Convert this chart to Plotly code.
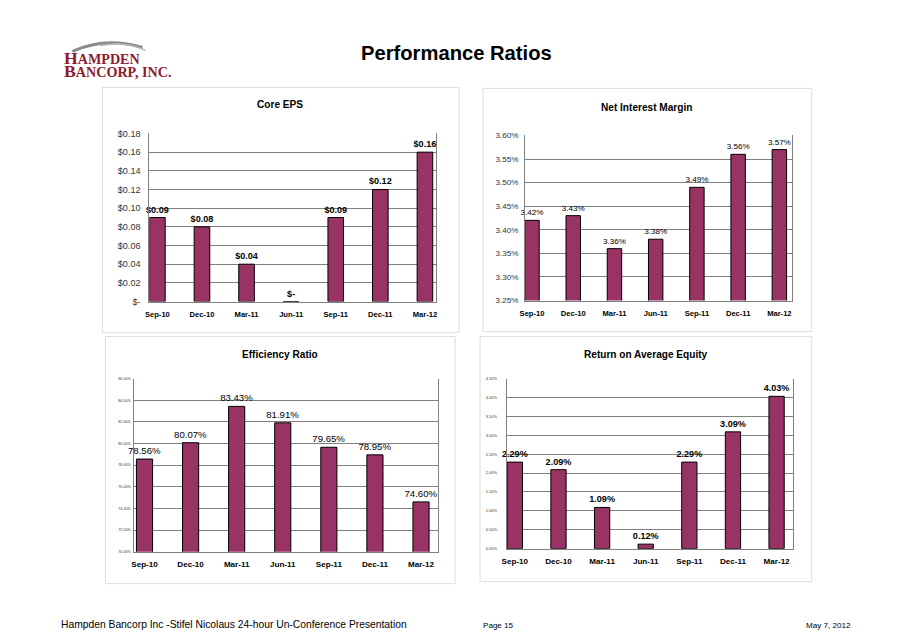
import plotly.graph_objects as go

# ---------------- data ----------------
periods = ["Sep-10", "Dec-10", "Mar-11", "Jun-11", "Sep-11", "Dec-11", "Mar-12"]
core_eps = [0.09, 0.08, 0.04, 0.00, 0.09, 0.12, 0.16]
net_interest_margin = [3.42, 3.43, 3.36, 3.38, 3.49, 3.56, 3.57]
efficiency_ratio = [78.56, 80.07, 83.43, 81.91, 79.65, 78.95, 74.60]
return_on_avg_equity = [2.29, 2.09, 1.09, 0.12, 2.29, 3.09, 4.03]

eps_ticks = [0.0, 0.02, 0.04, 0.06, 0.08, 0.10, 0.12, 0.14, 0.16, 0.18]
eps_ticktext = ["$-", "$0.02", "$0.04", "$0.06", "$0.08", "$0.10", "$0.12", "$0.14", "$0.16", "$0.18"]
nim_ticks = [3.25, 3.30, 3.35, 3.40, 3.45, 3.50, 3.55, 3.60]
eff_ticks = [70, 72, 74, 76, 78, 80, 82, 84, 86]
roae_ticks = [0.0, 0.5, 1.0, 1.5, 2.0, 2.5, 3.0, 3.5, 4.0, 4.5]

W, H = 912, 644
# compensation for the slight scaling seen in the photographed page
SX, OX = 0.9944, 4.5
SY, OY = 0.984, 4.6
BAR = "#993366"
PLOT_BG = "#C0C0C0"
GRID = "#808080"
FONT = "Liberation Sans, Arial, sans-serif"

def px(x):
    return ((x - OX) / SX) / W

def py(y):
    return 1 - ((y - OY) / SY) / H

def fs(size):
    return round(size / 0.99, 2)

xs = list(range(len(periods)))

fig = go.Figure()

def add_bar(values, labels, idx, size, bold):
    fig.add_trace(go.Bar(
        x=xs, y=values,
        xaxis="x" if idx == 1 else f"x{idx}",
        yaxis="y" if idx == 1 else f"y{idx}",
        marker=dict(color=BAR, line=dict(color="#000000", width=1)),
        text=labels, textposition="outside", cliponaxis=False,
        constraintext="none",
        textfont=dict(family=FONT, size=fs(size), color="#000000",
                      weight="bold" if bold else "normal"),
        width=0.35, showlegend=False, hoverinfo="skip",
    ))

add_bar(core_eps, [f"${v:.2f}" if v else "$-" for v in core_eps], 1, 9, True)
add_bar(net_interest_margin, [f"{v:.2f}%" for v in net_interest_margin], 2, 8, False)
add_bar(efficiency_ratio, [f"{v:.2f}%" for v in efficiency_ratio], 3, 9.5, False)
add_bar(return_on_avg_equity, [f"{v:.2f}%" for v in return_on_avg_equity], 4, 9, True)

def xaxis(domain, rng, anchor, size):
    return dict(domain=domain, range=rng, anchor=anchor,
                tickmode="array", tickvals=xs, ticktext=periods,
                tickfont=dict(family=FONT, size=fs(size), color="#000000", weight="bold"),
                showgrid=False, zeroline=False, showline=True, linecolor="#808080",
                ticks="", ticklabelstandoff=5, fixedrange=True)

def yaxis(domain, rng, anchor, tickvals, ticktext, size, standoff):
    return dict(domain=domain, range=rng, anchor=anchor,
                tickmode="array", tickvals=tickvals, ticktext=ticktext,
                tickfont=dict(family=FONT, size=fs(size), color="#333333"),
                showgrid=True, gridcolor=GRID, gridwidth=1, zeroline=False,
                showline=True, linecolor="#808080", mirror=True,
                ticks="", ticklabelstandoff=standoff, fixedrange=True)

layout = dict(
    width=W, height=H, autosize=False,
    margin=dict(l=0, r=0, t=0, b=0),
    paper_bgcolor="#ffffff", plot_bgcolor=PLOT_BG,
    font=dict(family=FONT),
)

layout["xaxis"] = xaxis([px(149), px(436)], [-0.18, 6.25], "y", 7.5)
layout["yaxis"] = yaxis([py(301), py(133)], [0, 0.18], "x", eps_ticks, eps_ticktext, 9, 6)
layout["xaxis2"] = xaxis([px(525), px(792)], [-0.17, 6.3], "y2", 7.5)
layout["yaxis2"] = yaxis([py(300), py(135)], [3.25, 3.60], "x2", nim_ticks,
                         [f"{v:.2f}%" for v in nim_ticks], 8, 4)
layout["xaxis3"] = xaxis([px(134), px(438)], [-0.22, 6.37], "y3", 8)
layout["yaxis3"] = yaxis([py(551), py(378)], [70, 86], "x3", eff_ticks,
                         [f"{v:.2f}%" for v in eff_ticks], 3.6, 2)
layout["xaxis4"] = xaxis([px(507), px(793)], [-0.18, 6.37], "y4", 8)
layout["yaxis4"] = yaxis([py(548), py(378)], [0, 4.5], "x4", roae_ticks,
                         [f"{v:.2f}%" for v in roae_ticks], 4, 8)

fig.update_layout(**layout)

# panel frames
shapes = []
for (l, t, r, b) in [(102, 87, 459, 332), (483, 88, 812, 331),
                     (105, 336, 455, 583), (480, 336, 812, 581)]:
    shapes.append(dict(type="rect", xref="paper", yref="paper",
                       x0=px(l), x1=px(r), y0=py(b), y1=py(t),
                       line=dict(color="#dedede", width=1),
                       fillcolor="#ffffff", layer="below"))

# logo swoosh
shapes.append(dict(type="path", xref="paper", yref="paper",
                   path=f"M {px(72)},{py(51)} Q {px(105)},{py(36)} {px(142)},{py(47)}",
                   line=dict(color="#8a8a8a", width=3)))
shapes.append(dict(type="path", xref="paper", yref="paper",
                   path=f"M {px(100)},{py(45)} Q {px(125)},{py(40)} {px(145)},{py(50)}",
                   line=dict(color="#b0b0b0", width=1.5)))
fig.update_layout(shapes=shapes)

ann = []
def text(x, y, s, size, bold=False, color="#000000", xanchor="center", family=FONT):
    ann.append(dict(x=px(x), y=py(y), xref="paper", yref="paper", text=s,
                    showarrow=False, xanchor=xanchor, yanchor="middle", align="left",
                    font=dict(family=family, size=fs(size), color=color,
                              weight="bold" if bold else "normal")))

text(456, 53, "Performance Ratios", 20, True)
text(280, 104, "Core EPS", 10, True)
text(647, 107, "Net Interest Margin", 10, True)
text(280, 354, "Efficiency Ratio", 10, True)
text(646, 354, "Return on Average Equity", 10, True)

text(59, 624, "Hampden Bancorp Inc -Stifel Nicolaus 24-hour Un-Conference Presentation", 10.2, xanchor="left")
text(481, 625, "Page 15", 8, xanchor="left")
text(853, 625, "May 7, 2012", 8, xanchor="right")

SERIF = "Liberation Serif, DejaVu Serif, serif"
LOGO = "#8c1c2c"
big, small = fs(17.5), fs(14)
logo = (f"<span style='font-size:{big}px'>H</span><span style='font-size:{small}px'>AMPDEN</span><br>"
        f"<span style='font-size:{big}px'>B</span><span style='font-size:{small}px'>ANCORP, INC.</span>")
text(62, 64, logo, 9.6, True, LOGO, "left", SERIF)

fig.update_layout(annotations=ann)

fig.write_html("out.html", config={"displayModeBar": False},
               post_script="document.body.style.margin='0';document.body.style.padding='0';")
